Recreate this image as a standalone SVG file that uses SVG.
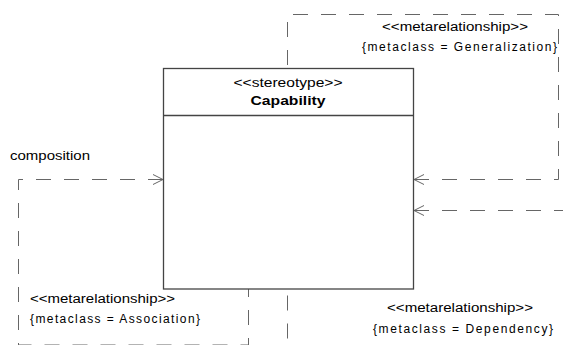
<svg xmlns="http://www.w3.org/2000/svg" width="563" height="345" viewBox="0 0 563 345">
<style>
.conn{fill:none;stroke:#666;stroke-width:1;stroke-dasharray:15 13}
.head{fill:none;stroke:#666;stroke-width:1}
.box{fill:#fff;stroke:#444;stroke-width:1.3}
text{font-family:"Liberation Sans",Arial,sans-serif;font-size:12px;fill:#000}
.b{font-weight:bold}
</style>
<rect width="563" height="345" fill="#fff"/>
<g id="connectors">
<path class="conn" d="M414,179.5 L558.5,179.5 L558.5,14.5 L287.5,14.5 L287.5,68"/>
<path class="head" d="M424,174.5 L414,179.5 L424,184.5"/>
<path class="conn" d="M414,210.5 L600,210.5 L600,389.25 L287.5,389.25 L287.5,289"/>
<path class="head" d="M424,205.5 L414,210.5 L424,215.5"/>
<path class="conn" d="M163,179.5 L18.5,179.5 L18.5,345 L248.5,345 L248.5,289"/>
<path class="head" d="M153,174.5 L163,179.5 L153,184.5"/>
</g>
<g id="capability">
<rect class="box" x="163.5" y="68.5" width="250" height="220.5"/>
<line x1="163.5" y1="115.5" x2="413.5" y2="115.5" stroke="#444" stroke-width="1.3"/>
<text x="288" y="87" text-anchor="middle" textLength="109" lengthAdjust="spacingAndGlyphs">&lt;&lt;stereotype&gt;&gt;</text>
<text class="b" x="288" y="105" text-anchor="middle" textLength="75" lengthAdjust="spacingAndGlyphs">Capability</text>
</g>
<g id="labels">
<text x="455" y="31" text-anchor="middle" textLength="146" lengthAdjust="spacingAndGlyphs">&lt;&lt;metarelationship&gt;&gt;</text>
<text x="459.5" y="51" text-anchor="middle" textLength="195" lengthAdjust="spacing">{metaclass = Generalization}</text>
<text x="10" y="160" textLength="80" lengthAdjust="spacingAndGlyphs">composition</text>
<text x="30" y="303" textLength="145" lengthAdjust="spacingAndGlyphs">&lt;&lt;metarelationship&gt;&gt;</text>
<text x="30" y="323" textLength="170" lengthAdjust="spacing">{metaclass = Association}</text>
<text x="460" y="312" text-anchor="middle" textLength="146" lengthAdjust="spacingAndGlyphs">&lt;&lt;metarelationship&gt;&gt;</text>
<text x="463" y="333" text-anchor="middle" textLength="180" lengthAdjust="spacing">{metaclass = Dependency}</text>
</g>
</svg>
